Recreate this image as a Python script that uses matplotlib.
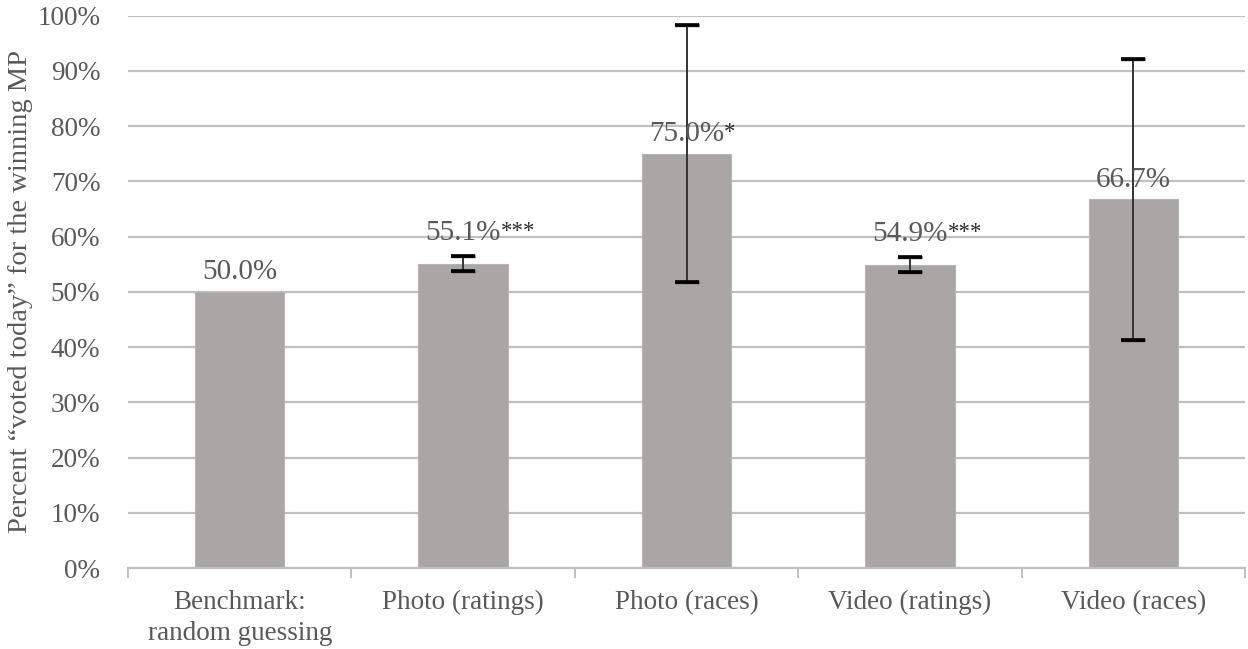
import matplotlib
matplotlib.use("Agg")
from matplotlib import pyplot as plt
import numpy as np

categories = ["Benchmark:\nrandom guessing", "Photo (ratings)", "Photo (races)",
              "Video (ratings)", "Video (races)"]
values = [50.0, 55.1, 75.0, 54.9, 66.7]
errors = [0.0, 1.4, 23.3, 1.4, 25.4]
stars = ["", "***", "*", "***", ""]

text_grey = "#595959"
bar_grey = "#aaa6a5"
grid_grey = "#c0c0c0"

plt.rcParams["font.family"] = ["Liberation Serif", "DejaVu Serif"]

fig = plt.figure(figsize=(12.48, 6.49), dpi=100)
ax = fig.add_axes([0.1026, 0.1248, 0.895, 0.8513])

x = np.arange(len(categories))
ax.bar(x, values, width=0.4, color=bar_grey, edgecolor="#b8b4b3", linewidth=0.8, zorder=2)

# error bars only where there is an interval
for xi, v, e in zip(x, values, errors):
    if e > 0:
        ax.errorbar(xi, v, yerr=e, fmt="none", ecolor="#333333", elinewidth=1.4,
                    capsize=8.5, capthick=2.4, zorder=3)
        # darker caps on top of the line
        ax.plot([xi], [v + e], marker="_", color="black", markersize=17, mew=2.6, zorder=4)
        ax.plot([xi], [v - e], marker="_", color="black", markersize=17, mew=2.6, zorder=4)

# value labels with significance stars
for xi, v, e, s in zip(x, values, errors, stars):
    if 0 < e < 5:
        base, off = v + e, 11.5
    else:
        base, off = v, 9
    t = ax.annotate(f"{v:.1f}%", xy=(xi, base), xytext=(0, off), textcoords="offset points",
                    ha="center", va="baseline", fontsize=21, color=text_grey, zorder=5)
    if s:
        ax.annotate(s, xy=(1.0, 0.97), xycoords=t, ha="left", va="top",
                    fontsize=16.5, color="#2b2b2b", zorder=5)

ax.set_xlim(-0.5, len(categories) - 0.5)
ax.set_ylim(0, 100)
ax.set_yticks(np.arange(0, 101, 10))
ax.set_yticklabels([f"{t}%" for t in range(0, 101, 10)], fontsize=19.5, color=text_grey)
ax.tick_params(axis="y", length=0, pad=20)
ax.yaxis.grid(True, color=grid_grey, linewidth=1.6, zorder=0)
ax.set_axisbelow(True)

ax.set_xticks(x)
ax.set_xticklabels(categories, fontsize=19.5, color=text_grey, linespacing=1.3)
ax.tick_params(axis="x", which="major", length=0, pad=16)
ax.set_xticks(np.arange(-0.5, len(categories)), minor=True)
ax.tick_params(axis="x", which="minor", length=7, width=1.4, color=grid_grey, direction="out")

for side in ["top", "right", "left"]:
    ax.spines[side].set_visible(False)
ax.spines["bottom"].set_color(grid_grey)
ax.spines["bottom"].set_linewidth(1.6)

ax.set_ylabel("Percent \u201cvoted today\u201d for the winning MP", fontsize=20.5,
              color=text_grey, labelpad=3)

fig.savefig("out.png", dpi=100)
plt.close(fig)
